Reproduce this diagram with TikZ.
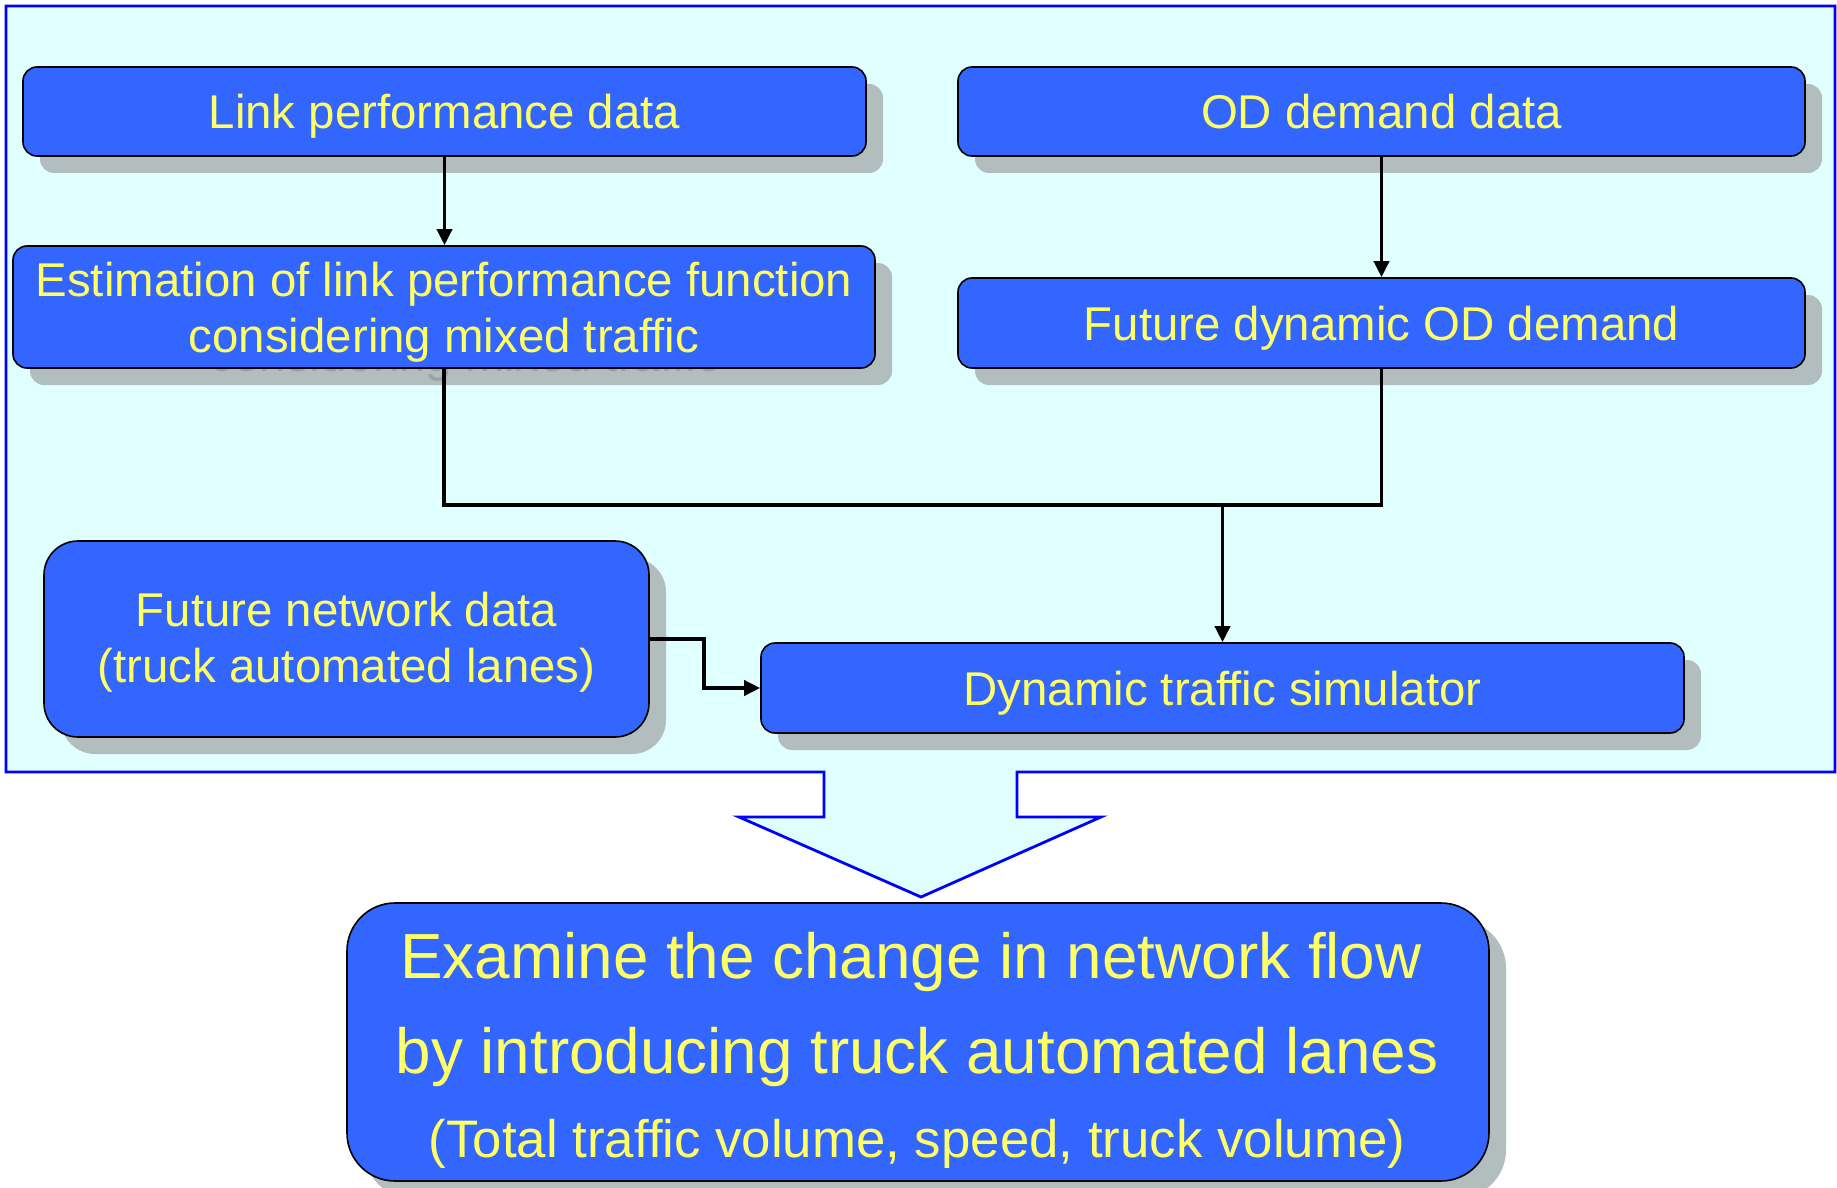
\documentclass[tikz,border=0pt]{standalone}
\usepackage{fontspec}
\setmainfont{Liberation Sans}
\usetikzlibrary{shadows,arrows.meta}
\definecolor{bgcyan}{HTML}{E0FFFF}
\definecolor{boxblue}{HTML}{3366FF}
\definecolor{txtyellow}{HTML}{FFFF66}
\definecolor{shadowgray}{HTML}{B2BEBE}
\definecolor{ghostgray}{HTML}{98A4A4}
\definecolor{outlineblue}{HTML}{0000FF}
\begin{document}
\begin{tikzpicture}[x=0.5pt,y=-0.5pt,
  boxfont/.style={font=\fontsize{23.7}{28}\selectfont, text height=17pt, text depth=0pt, align=center, inner sep=0pt},
  twoline/.style={text height=45pt, text depth=0pt},
  flowbox/.style={boxfont, draw=black, line width=0.8pt, fill=boxblue, rounded corners=7pt,
    text=txtyellow,
    drop shadow={shadow xshift=8.5pt, shadow yshift=-8.5pt, fill=shadowgray, opacity=1}},
  conn/.style={line width=1.8pt, draw=black},
  arr/.style={conn, -{Triangle[length=8pt,width=7.5pt]}},
  bigtext/.style={text=txtyellow, anchor=base, inner sep=0pt},
]
\useasboundingbox (0,0) rectangle (1837,1188);
% outer panel with arrow
\draw[outlineblue, line width=1.4pt, fill=bgcyan, line join=miter]
  (6,6) -- (1835,6) -- (1835,772) -- (1017,772) -- (1017,817) -- (1101,817)
  -- (921,897) -- (739,817) -- (824,817) -- (824,772) -- (6,772) -- cycle;

\node[flowbox, minimum width=421.5pt, minimum height=44.5pt] (link) at (444.5,111.5) {Link performance data};
\node[flowbox, twoline, minimum width=431pt, minimum height=61pt] (est) at (444,307) {Estimation of link performance function\\considering mixed traffic};
\begin{scope}
  \clip (30,369) rectangle (892,386);
  \node[boxfont, twoline, text=ghostgray] (ghost) at (465,326) {Estimation of link performance function\\considering mixed traffic};
\end{scope}
\node[flowbox, minimum width=423.5pt, minimum height=44.5pt] (od) at (1381.5,111.5) {OD demand data};
\node[flowbox, minimum width=423.5pt, minimum height=45pt] (fod) at (1381.5,323) {Future dynamic OD demand};
\node[flowbox, twoline, text height=43pt, rounded corners=17pt, minimum width=302.5pt, minimum height=98pt] (fnet) at (346.5,639) {Future network data\\(truck automated lanes)};
\node[flowbox, minimum width=461.5pt, minimum height=45pt] (sim) at (1222.5,688) {Dynamic traffic simulator};
\node[flowbox, rounded corners=24pt, minimum width=571pt, minimum height=139pt] (exam) at (918,1042) {};
\node[bigtext, font=\fontsize{31.9}{38}\selectfont] (e1) at (911,978) {Examine the change in network flow};
\node[bigtext, font=\fontsize{31.9}{38}\selectfont] (e2) at (917,1073) {by introducing truck automated lanes};
\node[bigtext, font=\fontsize{26.4}{32}\selectfont] (e3) at (917,1157) {(Total traffic volume, speed, truck volume)};

% connectors
\draw[arr] (link.south) -- (link.south |- est.north);
\draw[arr] (od.south) -- (od.south |- fod.north);
\coordinate (jl) at (444,505);
\coordinate (jr) at (1381.5,505);
\coordinate (jc) at (1222.5,505);
\draw[conn, line join=miter] (est.south) -- (jl) -- (jr) -- (fod.south);
\draw[arr] (jc) -- (sim.north);
\coordinate (b1) at (704,639);
\draw[arr, line join=miter] (fnet.east) -- (b1) |- (sim.west);
\end{tikzpicture}
\end{document}
